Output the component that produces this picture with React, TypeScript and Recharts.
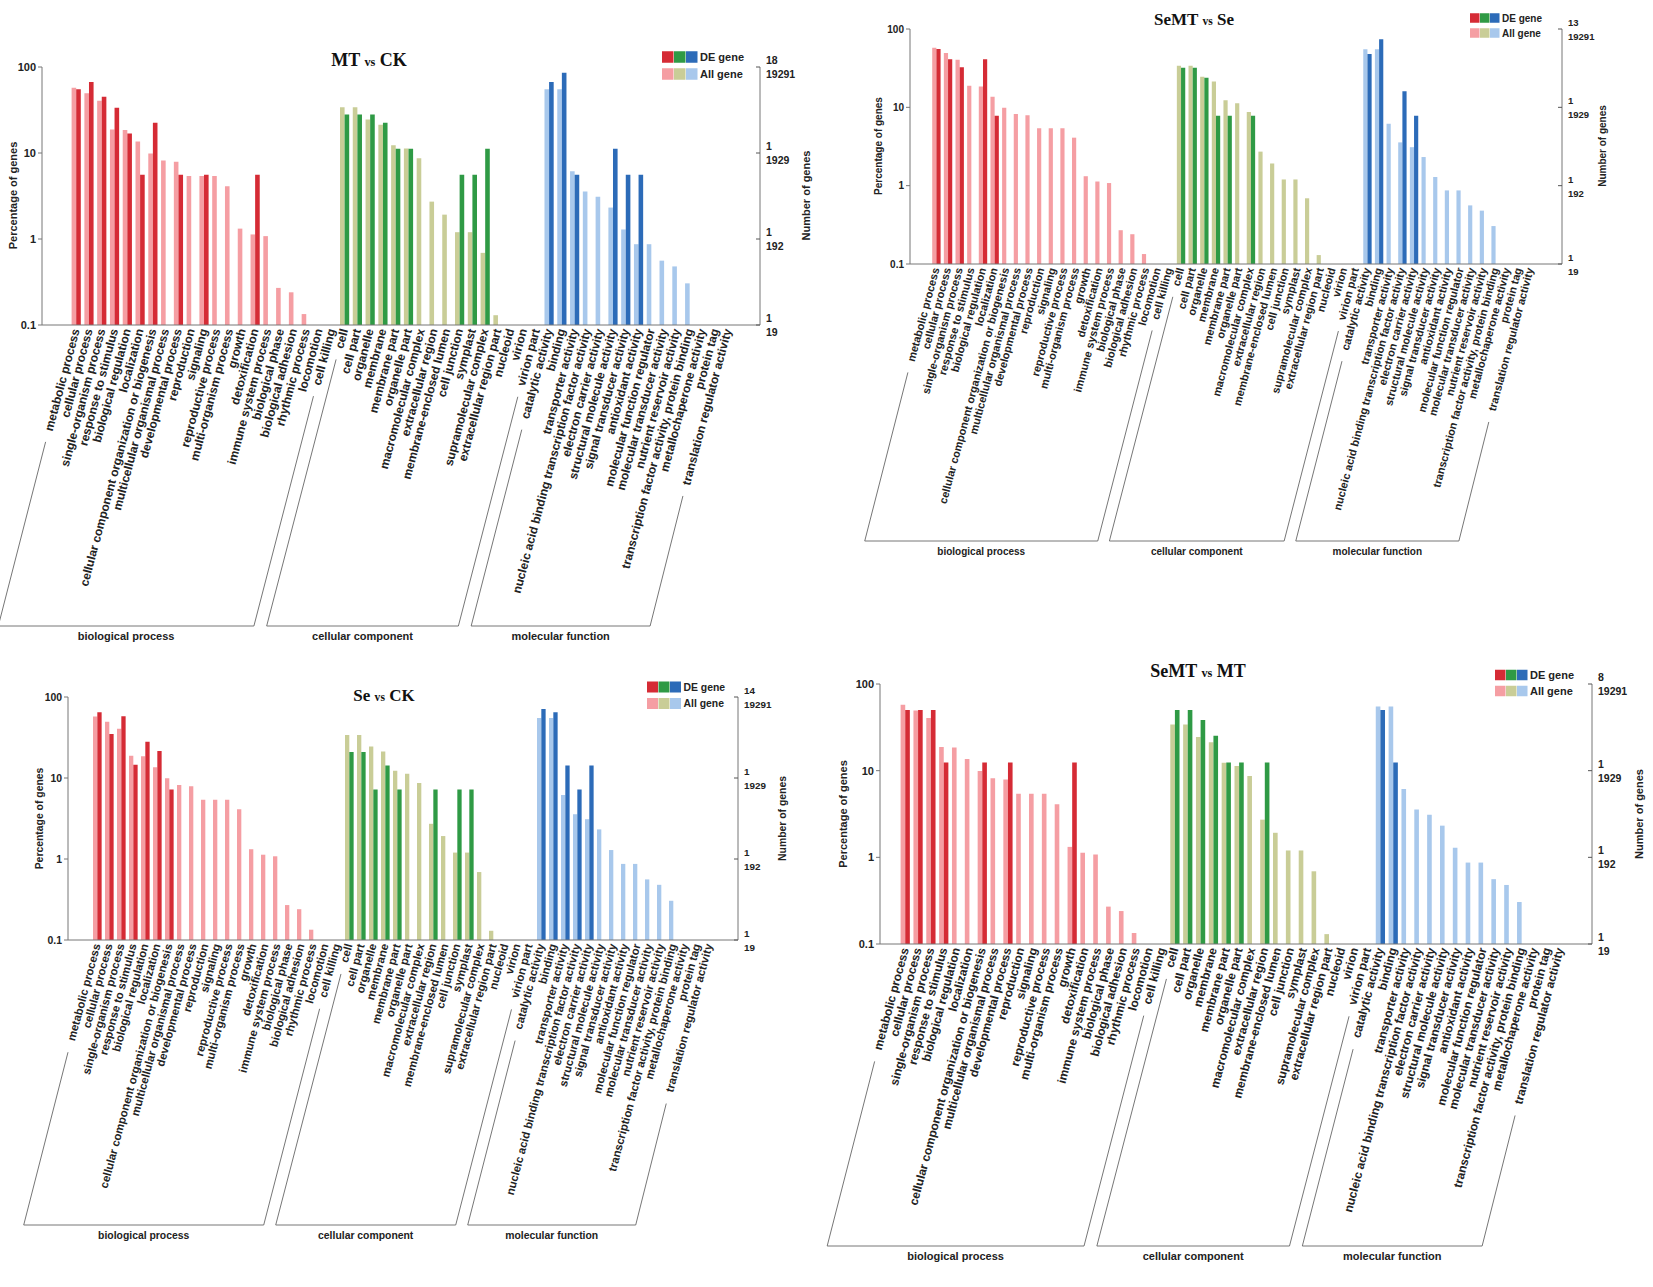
import React from 'react';
import { BarChart, Bar, XAxis, YAxis, Cell } from 'recharts';

const SANS = '"Liberation Sans", Arial, Helvetica, sans-serif';
const SERIF = '"Liberation Serif", "Times New Roman", serif';

// GO terms, in the order they sit on the x axis
const BP_TERMS = [
  'metabolic process', 'cellular process', 'single-organism process', 'response to stimulus',
  'biological regulation', 'localization', 'cellular component organization or biogenesis',
  'multicellular organismal process', 'developmental process', 'reproduction', 'signaling',
  'reproductive process', 'multi-organism process', 'growth', 'detoxification',
  'immune system process', 'biological phase', 'biological adhesion', 'rhythmic process',
  'locomotion', 'cell killing',
];
const CC_TERMS = [
  'cell', 'cell part', 'organelle', 'membrane', 'membrane part', 'organelle part',
  'macromolecular complex', 'extracellular region', 'membrane-enclosed lumen', 'cell junction',
  'symplast', 'supramolecular complex', 'extracellular region part', 'nucleoid', 'virion', 'virion part',
];
const MF_TERMS = [
  'catalytic activity', 'binding', 'transporter activity',
  'nucleic acid binding transcription factor activity', 'electron carrier activity',
  'structural molecule activity', 'signal transducer activity', 'antioxidant activity',
  'molecular function regulator', 'molecular transducer activity', 'nutrient reservoir activity',
  'transcription factor activity, protein binding', 'metallochaperone activity', 'protein tag',
  'translation regulator activity',
];
const GROUP_NAMES = ['biological process', 'cellular component', 'molecular function'];

// % of all annotated genes (same background in every comparison)
const BP_ALL = [57.5, 49.5, 40.5, 18.8, 18.5, 13.6, 9.9, 8.2, 7.9, 5.4, 5.4, 5.4, 4.1, 1.32, 1.13, 1.08, 0.27, 0.24, 0.134, null, null];
const CC_ALL = [34, 34, 24.5, 21.3, 12.3, 11.3, 8.7, 2.72, 1.92, 1.2, 1.2, 0.69, 0.13, null, null, null];
const MF_ALL = [55, 55, 6.15, 3.57, 3.1, 2.32, 1.29, 0.87, 0.87, 0.56, 0.48, 0.305, null, null, null];

// % of DE genes per comparison
const MT_CK_BP = [55, 67, 45, 33.6, 16.9, 5.6, 22.5, null, 5.6, null, 5.6, null, null, null, 5.6, null, null, null, null, null, null];
const MT_CK_CC = [28, 28, 28, 22.5, 11.2, 11.2, null, null, null, 5.6, 5.6, 11.2, null, null, null, null];
const MT_CK_MF = [67, 86, 5.6, null, null, 11.2, 5.6, 5.6, null, null, null, null, null, null, null];

const SEMT_SE_BP = [55.6, 41, 32.4, null, 41, 7.8, null, null, null, null, null, null, null, null, null, null, null, null, null, null, null];
const SEMT_SE_CC = [32, 32, 23.9, 7.8, 7.8, null, 7.8, null, null, null, null, null, null, null, null, null];
const SEMT_SE_MF = [48, 74, null, 16, 7.8, null, null, null, null, null, null, null, null, null, null];

const SE_CK_BP = [64.8, 35, 58, 14.6, 28, 21.5, 7.2, null, null, null, null, null, null, null, null, null, null, null, null, null, null];
const SE_CK_CC = [20.9, 20.9, 7.2, 14.3, 7.2, null, null, 7.2, null, 7.2, 7.2, null, null, null, null, null];
const SE_CK_MF = [71, 65, 14.3, 7.2, 14.3, null, null, null, null, null, null, null, null, null, null];

const SEMT_MT_BP = [50, 50, 50, 12.4, null, null, 12.4, null, 12.4, null, null, null, null, 12.4, null, null, null, null, null, null, null];
const SEMT_MT_CC = [50, 50, 38.4, 25.3, 12.4, 12.4, null, 12.4, null, null, null, null, null, null, null, null];
const SEMT_MT_MF = [50, 12.4, null, null, null, null, null, null, null, null, null, null, null, null, null];

const PCT_TICKS = [0.1, 1, 10, 100];
const COUNT_LOW = ['19', '192', '1929', '19291'];

const DARK = ['#d52b35', '#2f9a45', '#2c6bb8'];
const LIGHT = ['#f59ea3', '#c9cd97', '#a8c8ec'];

const ALL_TERMS = [...BP_TERMS, ...CC_TERMS, ...MF_TERMS];

function buildRows(bp: any[], cc: any[], mf: any[]) {
  const rows: any[] = [];
  const groups = [[BP_TERMS, BP_ALL, bp], [CC_TERMS, CC_ALL, cc], [MF_TERMS, MF_ALL, mf]];
  groups.forEach(([terms, all, de]: any, g) => {
    terms.forEach((t: string, i: number) => rows.push({ term: t, group: g, all: all[i], de: de[i] }));
  });
  return rows;
}

const PANELS = [
  { title: ['MT', 'CK'], topCount: '18', bp: MT_CK_BP, cc: MT_CK_CC, mf: MT_CK_MF,
    left: 42, right: 760, top: 66.5, bottom: 324.5, padL: 27.6, padR: 25.8, fs: 11, lfs: 12, tfs: 18,
    titleX: 369, titleY: 60, legX: 662, legY: 57, sq: 11.5, yLabX: 13, rLabX: 806, baseline: 626 },
  { title: ['SeMT', 'Se'], topCount: '13', bp: SEMT_SE_BP, cc: SEMT_SE_CC, mf: SEMT_SE_MF,
    left: 910, right: 1562, top: 28.5, bottom: 263.5, padL: 20.2, padR: 26, fs: 10, lfs: 11, tfs: 17,
    titleX: 1194, titleY: 19, legX: 1470, legY: 18, sq: 9.5, yLabX: 878, rLabX: 1602, baseline: 541 },
  { title: ['Se', 'CK'], topCount: '14', bp: SE_CK_BP, cc: SE_CK_CC, mf: SE_CK_MF,
    left: 68, right: 738, top: 697, bottom: 940, padL: 23, padR: 23, fs: 10.4, lfs: 11.4, tfs: 17,
    titleX: 384, titleY: 695, legX: 647, legY: 687, sq: 11, yLabX: 39, rLabX: 782, baseline: 1225 },
  { title: ['SeMT', 'MT'], topCount: '8', bp: SEMT_MT_BP, cc: SEMT_MT_CC, mf: SEMT_MT_MF,
    left: 880, right: 1592, top: 684, bottom: 944, padL: 18.6, padR: 25.6, fs: 11, lfs: 12, tfs: 18,
    titleX: 1198, titleY: 671, legX: 1495, legY: 675, sq: 10.5, yLabX: 843, rLabX: 1639, baseline: 1246 },
];

let measureCtx: any = null;
function textWidth(text: string, fs: number) {
  if (!measureCtx) measureCtx = document.createElement('canvas').getContext('2d');
  measureCtx.font = `bold ${fs}px ${SANS}`;
  return measureCtx.measureText(text).width;
}

const TermTick = ({ x, y, payload, fs }: any) => (
  <g transform={`translate(${x},${y})`}>
    <text transform="rotate(-75)" textAnchor="end" dy="0.33em" fontSize={fs} fontWeight="bold" fill="#222" fontFamily={SANS}>
      {payload.value}
    </text>
  </g>
);

const CountTick = ({ x, y, payload, top, fs }: any) => {
  const i = PCT_TICKS.indexOf(payload.value);
  return (
    <g>
      <line x1={x - 10} x2={x - 6} y1={y} y2={y} stroke="#555" />
      <text x={x} y={y - 3} fontSize={fs} fontWeight="bold" fill="#222" fontFamily={SANS}>{i === 3 ? top : '1'}</text>
      <text x={x} y={y + 11} fontSize={fs} fontWeight="bold" fill="#222" fontFamily={SANS}>{COUNT_LOW[i]}</text>
    </g>
  );
};

function GoPanel({ cfg }: any) {
  const rows = buildRows(cfg.bp, cfg.cc, cfg.mf);
  const yW = 40;
  const rW = 50;
  const topM = 12;
  const width = cfg.right - cfg.left + yW + rW;
  const xAxisH = cfg.baseline - cfg.bottom + 30;
  const height = topM + (cfg.bottom - cfg.top) + xAxisH;
  const band = (cfg.right - cfg.left - cfg.padL - cfg.padR) / ALL_TERMS.length;
  return (
    <div style={{ position: 'absolute', left: cfg.left - yW, top: cfg.top - topM }}>
      <BarChart width={width} height={height} data={rows} margin={{ top: topM, right: 0, bottom: 0, left: 0 }}
        barGap={0} barSize={band * 0.36}>
        <XAxis dataKey="term" interval={0} padding={{ left: cfg.padL, right: cfg.padR }}
          tick={<TermTick fs={cfg.lfs} />} tickLine={false} tickSize={0} tickMargin={4} height={xAxisH}
          axisLine={{ stroke: '#777' }} />
        <YAxis yAxisId="pct" scale="log" type="number" domain={[0.1, 100]} allowDataOverflow ticks={PCT_TICKS}
          width={yW} tickSize={4} tickFormatter={(v) => String(v)} axisLine={{ stroke: '#777' }} tickLine={{ stroke: '#777' }}
          tick={{ fontSize: cfg.fs, fontWeight: 'bold', fill: '#222', fontFamily: SANS }} />
        <YAxis yAxisId="num" orientation="right" scale="log" type="number" domain={[0.1, 100]} allowDataOverflow
          ticks={PCT_TICKS} width={rW} tickSize={0} tickMargin={6} tickLine={false} axisLine={{ stroke: '#777' }}
          tick={<CountTick top={cfg.topCount} fs={cfg.fs - 0.5} />} />
        <Bar yAxisId="pct" dataKey="all" isAnimationActive={false}>
          {rows.map((r, i) => <Cell key={i} fill={LIGHT[r.group]} />)}
        </Bar>
        <Bar yAxisId="pct" dataKey="de" isAnimationActive={false}>
          {rows.map((r, i) => <Cell key={i} fill={DARK[r.group]} />)}
        </Bar>
      </BarChart>
    </div>
  );
}

function PanelDecor({ cfg }: any) {
  const n = ALL_TERMS.length;
  const band = (cfg.right - cfg.left - cfg.padL - cfg.padR) / n;
  const cx = (i: number) => cfg.left + cfg.padL + band * (i + 0.5);
  const ang = (75 * Math.PI) / 180;
  const ux = -Math.cos(ang);
  const uy = Math.sin(ang);
  const y0 = cfg.bottom + 4;
  const tBase = (cfg.baseline - y0) / uy;
  const sizes = [BP_TERMS.length, CC_TERMS.length, MF_TERMS.length];
  let start = 0;
  const brackets = sizes.map((len, g) => {
    const first = start;
    const last = start + len - 1;
    start += len;
    const tf = textWidth(ALL_TERMS[first], cfg.lfs) + 12;
    const tl = textWidth(ALL_TERMS[last], cfg.lfs) + 12;
    const p1 = [cx(first) + ux * tf, y0 + uy * tf];
    const p2 = [cx(first) + ux * tBase + 2, cfg.baseline];
    const p3 = [cx(last) + ux * tBase + 2, cfg.baseline];
    const p4 = [cx(last) + ux * tl, y0 + uy * tl];
    return (
      <g key={g}>
        <polyline points={[p1, p2, p3, p4].map((p) => p.join(',')).join(' ')} fill="none" stroke="#666" strokeWidth={0.9} />
        <text x={(p2[0] + p3[0]) / 2} y={cfg.baseline + 14} textAnchor="middle" fontSize={cfg.fs} fontWeight="bold"
          fill="#222" fontFamily={SANS}>{GROUP_NAMES[g]}</text>
      </g>
    );
  });
  const midY = (cfg.top + cfg.bottom) / 2;
  return (
    <g>
      <text x={cfg.titleX} y={cfg.titleY} dy="0.35em" textAnchor="middle" fontFamily={SERIF} fontWeight="bold"
        fontSize={cfg.tfs} fill="#111">
        <tspan>{cfg.title[0]} </tspan>
        <tspan fontSize={cfg.tfs * 0.68}>vs</tspan>
        <tspan> {cfg.title[1]}</tspan>
      </text>
      {[DARK, LIGHT].map((cols, r) => (
        <g key={r}>
          {cols.map((c, k) => (
            <rect key={k} x={cfg.legX + k * (cfg.sq + 0.5)} y={cfg.legY + r * (cfg.sq + 5.5) - cfg.sq / 2}
              width={cfg.sq} height={cfg.sq} fill={c} />
          ))}
          <text x={cfg.legX + 3 * (cfg.sq + 0.5) + 2} y={cfg.legY + r * (cfg.sq + 5.5)} dy="0.35em" fontSize={cfg.fs}
            fontWeight="bold" fill="#222" fontFamily={SANS}>{r === 0 ? 'DE gene' : 'All gene'}</text>
        </g>
      ))}
      <text transform={`translate(${cfg.yLabX},${midY}) rotate(-90)`} textAnchor="middle" dy="0.35em"
        fontSize={cfg.fs} fontWeight="bold" fill="#222" fontFamily={SANS}>Percentage of genes</text>
      <text transform={`translate(${cfg.rLabX},${midY}) rotate(-90)`} textAnchor="middle" dy="0.35em"
        fontSize={cfg.fs} fontWeight="bold" fill="#222" fontFamily={SANS}>Number of genes</text>
      {brackets}
    </g>
  );
}

export default function App() {
  return (
    <div style={{ position: 'absolute', left: 0, top: 0, width: 1653, height: 1287, background: '#fff', overflow: 'hidden' }}>
      {PANELS.map((p, i) => <GoPanel key={i} cfg={p} />)}
      <svg width={1653} height={1287} style={{ position: 'absolute', left: 0, top: 0, pointerEvents: 'none' }}>
        {PANELS.map((p, i) => <PanelDecor key={i} cfg={p} />)}
      </svg>
    </div>
  );
}
